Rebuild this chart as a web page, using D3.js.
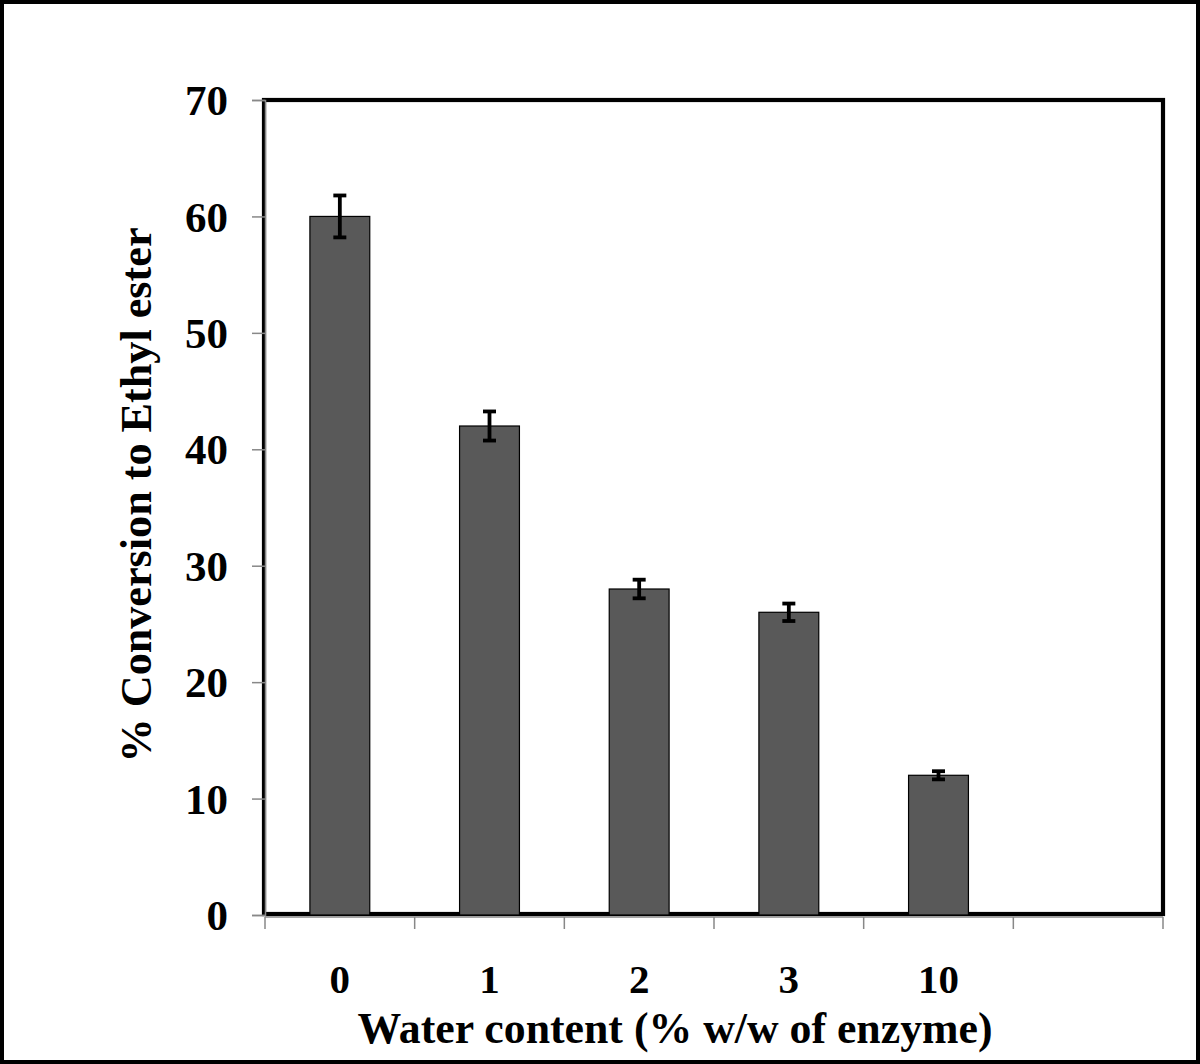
<!DOCTYPE html>
<html><head><meta charset="utf-8">
<script src="https://cdn.jsdelivr.net/npm/d3@7"></script>
<style>body{margin:0;background:#fff}svg{display:block}</style>
</head><body>
<svg id="c" width="1200" height="1064"></svg>
<script>
const categories = ["0","1","2","3","10",""];
const values = [60, 42, 28, 26, 12];
const errors = [1.8, 1.25, 0.8, 0.75, 0.35];
const yTicks = [0,10,20,30,40,50,60,70];
const xTitle = "Water content (% w/w of enzyme)";
const yTitle = "% Conversion to Ethyl ester";

const svg = d3.select("#c");
const font = "'Liberation Serif','Times New Roman',serif";
// outer frame
svg.append("rect").attr("x",2).attr("y",2).attr("width",1196).attr("height",1060)
  .attr("fill","#fff").attr("stroke","#000").attr("stroke-width",4);

const L=265, R=1163, T=100, B=915;
const x = d3.scaleBand().domain(categories).range([L,R]).padding(0);
const y = d3.scaleLinear().domain([0,70]).range([B,T]);

// plot box
svg.append("rect").attr("x",L-1).attr("y",T).attr("width",R-L+1).attr("height",B-T-1)
  .attr("fill","none").attr("stroke","#000").attr("stroke-width",4.2);

// y axis
const ya = svg.append("g").attr("transform",`translate(${L},0)`)
  .call(d3.axisLeft(y).tickValues(yTicks).tickSize(13).tickPadding(24).tickFormat(d3.format("d")));
ya.select(".domain").attr("stroke","#888").attr("stroke-width",1.5);
ya.selectAll(".tick line").attr("stroke","#888").attr("stroke-width",1.5);
ya.selectAll(".tick text").attr("font-family",font).attr("font-weight","bold")
  .attr("font-size",43).attr("fill","#000").attr("dy","0.34em");

// x axis (ticks at band boundaries)
const xa = svg.append("g").attr("transform",`translate(0,${B+2})`);
xa.append("line").attr("x1",L).attr("x2",R).attr("y1",0).attr("y2",0)
  .attr("stroke","#888").attr("stroke-width",1.5);
const bounds = categories.map(c=>x(c)).concat([x(categories[categories.length-1])+x.bandwidth()]);
xa.selectAll("line.t").data(bounds).join("line").attr("class","t")
  .attr("x1",d=>d).attr("x2",d=>d).attr("y1",0).attr("y2",12)
  .attr("stroke","#888").attr("stroke-width",1.5);
xa.selectAll("text").data(categories).join("text")
  .attr("x",d=>x(d)+x.bandwidth()/2).attr("y",993-B-2)
  .attr("text-anchor","middle").attr("font-family",font).attr("font-weight","bold")
  .attr("font-size",41).text(d=>d);

// bars
const bw = x.bandwidth()*0.4;
const data = values.map((v,i)=>({c:categories[i],v,e:errors[i]}));
svg.selectAll("rect.bar").data(data).join("rect").attr("class","bar")
  .attr("x",d=>x(d.c)+x.bandwidth()/2-bw/2).attr("width",bw)
  .attr("y",d=>y(d.v)).attr("height",d=>y(0)-y(d.v))
  .attr("fill","#595959").attr("stroke","#000").attr("stroke-width",1.2);

// error bars
const eb = svg.selectAll("g.eb").data(data).join("g").attr("class","eb");
eb.append("line").attr("x1",d=>x(d.c)+x.bandwidth()/2).attr("x2",d=>x(d.c)+x.bandwidth()/2)
  .attr("y1",d=>y(d.v+d.e)).attr("y2",d=>y(d.v-d.e)).attr("stroke","#000").attr("stroke-width",3.8);
[1,-1].forEach(s=>{
  eb.append("line").attr("x1",d=>x(d.c)+x.bandwidth()/2-6.5).attr("x2",d=>x(d.c)+x.bandwidth()/2+6.5)
    .attr("y1",d=>y(d.v+s*d.e)).attr("y2",d=>y(d.v+s*d.e)).attr("stroke","#000").attr("stroke-width",3.8);
});

// titles
svg.append("text").attr("x",675).attr("y",1043).attr("text-anchor","middle")
  .attr("font-family",font).attr("font-weight","bold").attr("font-size",44)
  .attr("textLength",635).attr("lengthAdjust","spacingAndGlyphs").text(xTitle);
svg.append("text").attr("transform","translate(151,495) rotate(-90)").attr("text-anchor","middle")
  .attr("font-family",font).attr("font-weight","bold").attr("font-size",45)
  .attr("textLength",535).attr("lengthAdjust","spacingAndGlyphs").text(yTitle);
</script>
</body></html>
